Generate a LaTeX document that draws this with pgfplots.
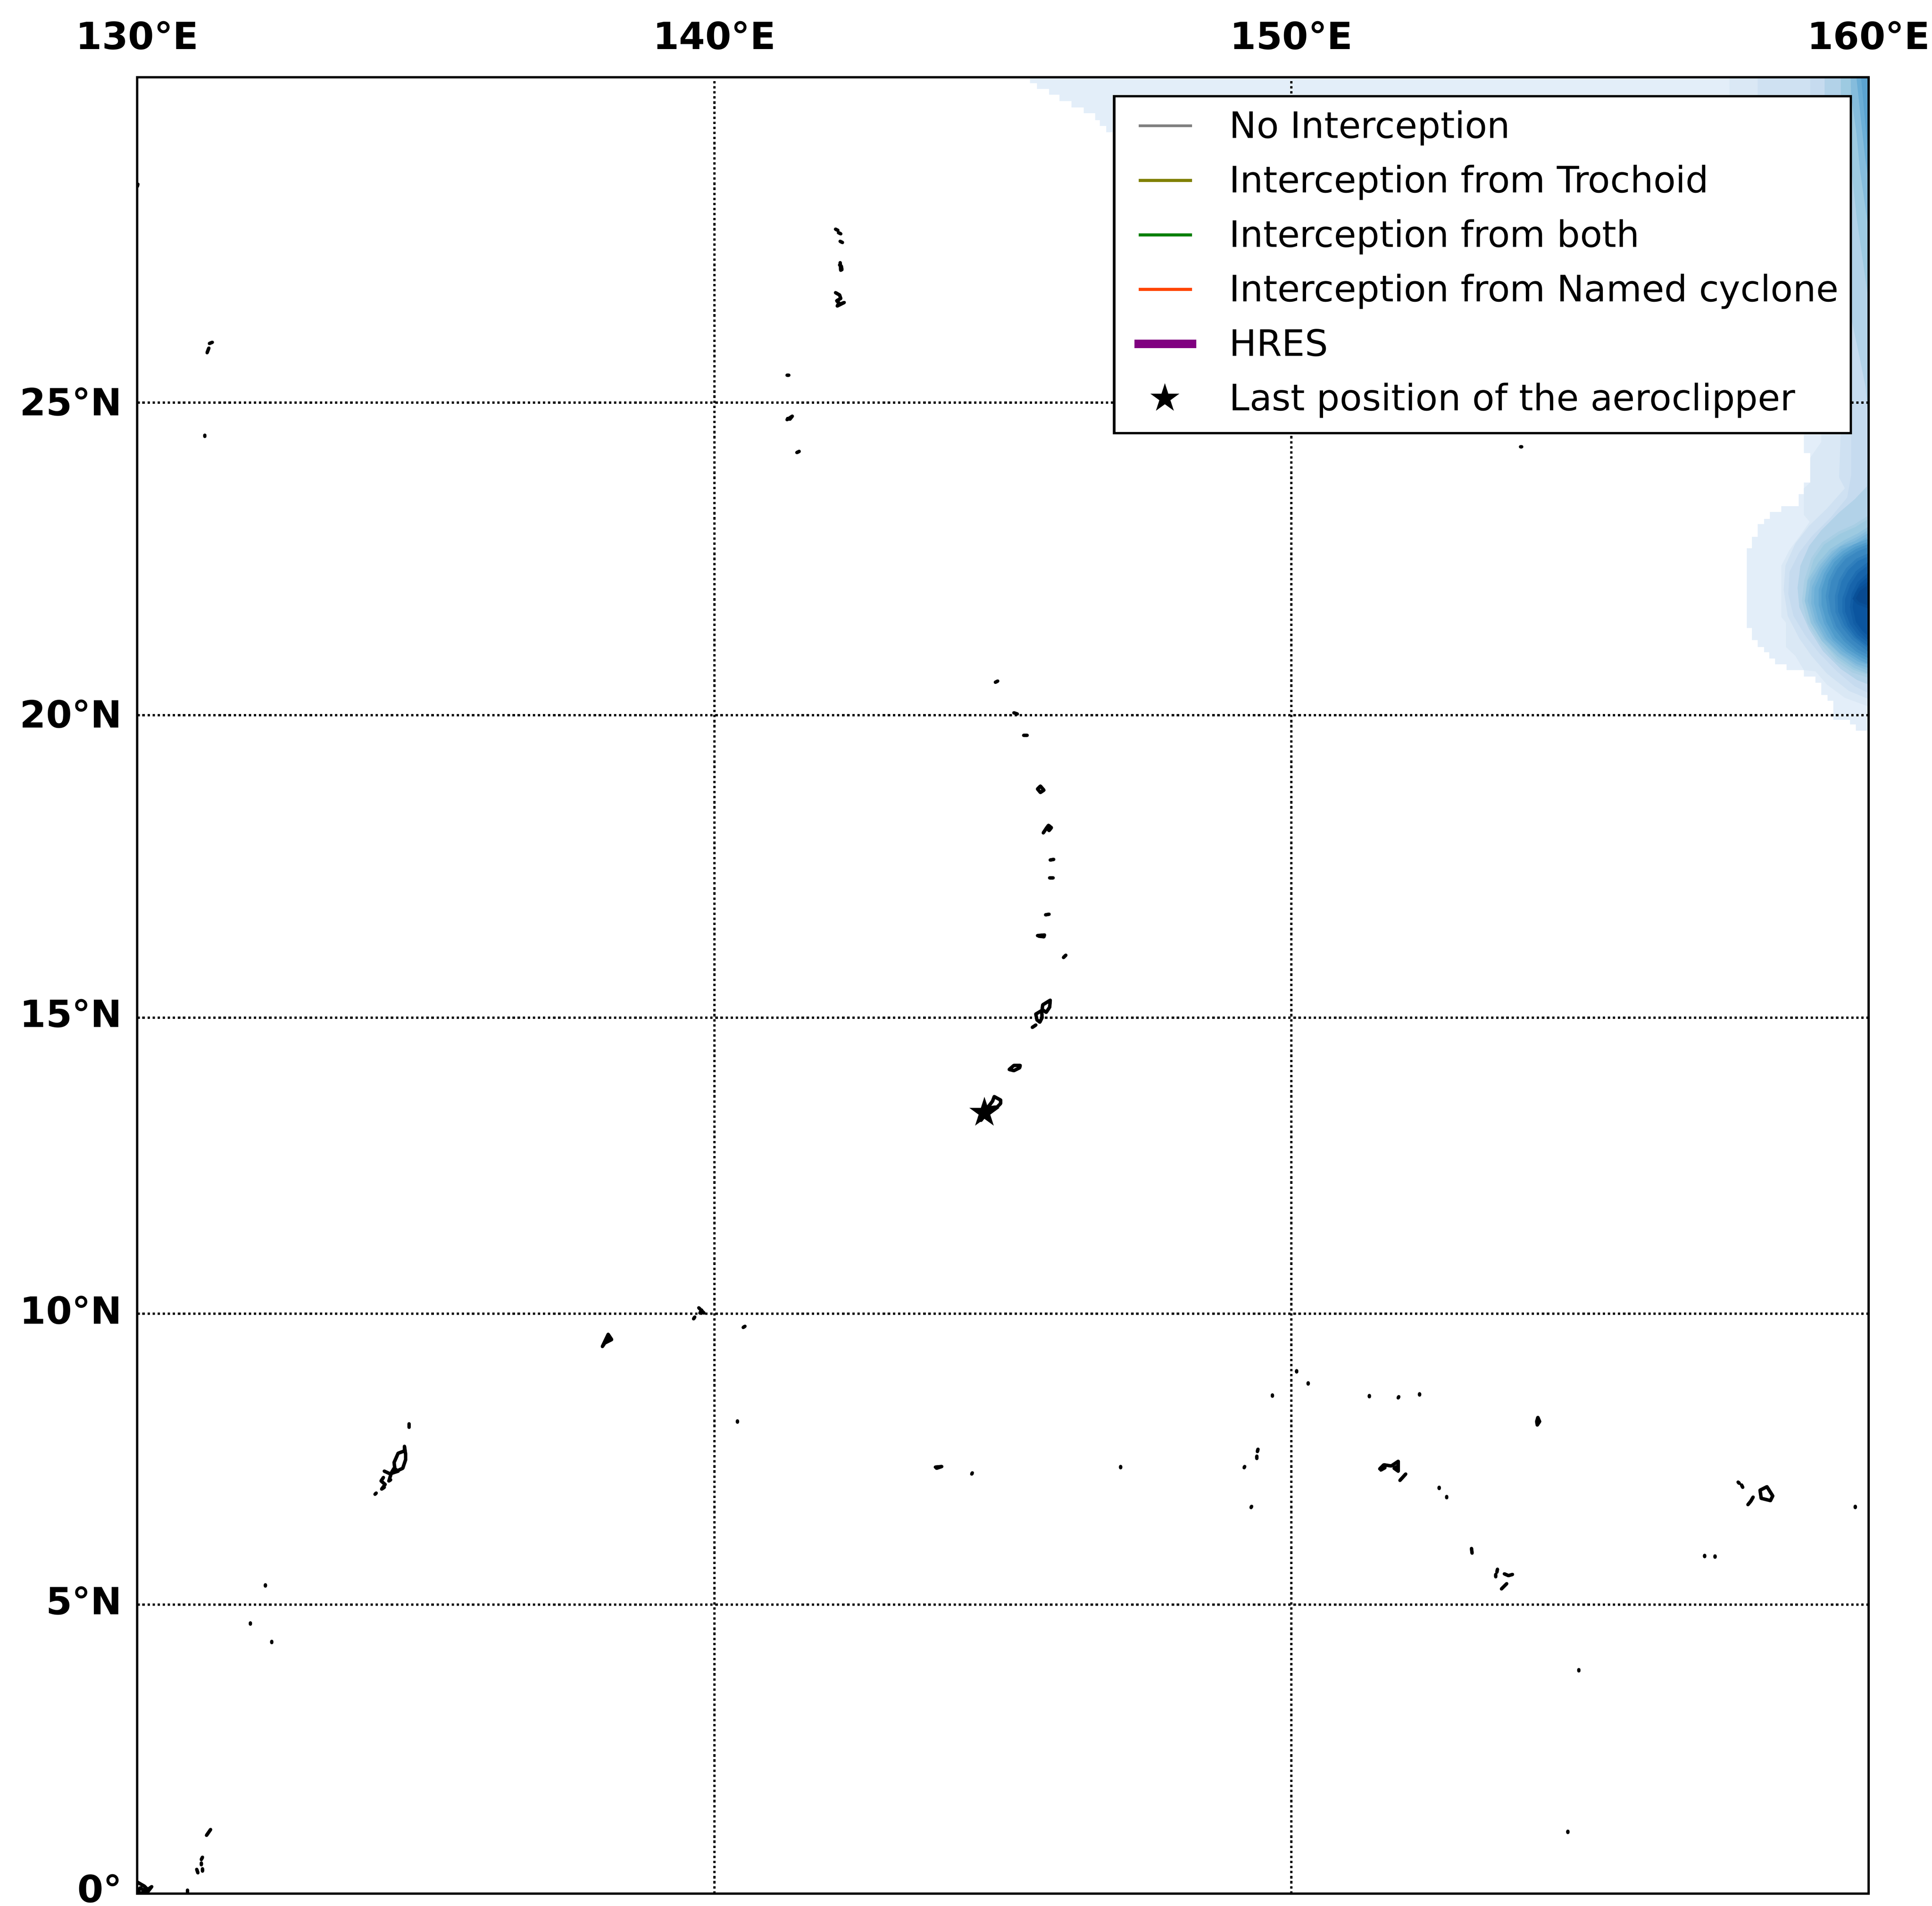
\documentclass[border=0pt]{standalone}
\usepackage{fontspec}
\setmainfont{DejaVu Sans}
\usepackage{pgfplots}
\pgfplotsset{compat=1.18}
\definecolor{c1}{HTML}{E3EEF9}
\definecolor{c2}{HTML}{DAE8F5}
\definecolor{c3}{HTML}{CFE1F2}
\definecolor{c4}{HTML}{C6DBEF}
\definecolor{c5}{HTML}{B2D2E8}
\definecolor{c6}{HTML}{9DCAE1}
\definecolor{c7}{HTML}{85BCDC}
\definecolor{c8}{HTML}{6BAED6}
\definecolor{c8b}{HTML}{5BA3D0}
\definecolor{c9}{HTML}{4F9BCB}
\definecolor{c10}{HTML}{3A88C1}
\definecolor{c11}{HTML}{2676B7}
\definecolor{c12}{HTML}{1764AB}
\definecolor{c13}{HTML}{0B559F}
\definecolor{c14}{HTML}{084A91}
\pgfdeclareplotmark{fstar}{%
  \pgfpathmoveto{\pgfpointpolar{90}{\pgfplotmarksize}}%
  \pgfpathlineto{\pgfpointpolar{126}{0.382\pgfplotmarksize}}%
  \pgfpathlineto{\pgfpointpolar{162}{\pgfplotmarksize}}%
  \pgfpathlineto{\pgfpointpolar{198}{0.382\pgfplotmarksize}}%
  \pgfpathlineto{\pgfpointpolar{234}{\pgfplotmarksize}}%
  \pgfpathlineto{\pgfpointpolar{270}{0.382\pgfplotmarksize}}%
  \pgfpathlineto{\pgfpointpolar{306}{\pgfplotmarksize}}%
  \pgfpathlineto{\pgfpointpolar{342}{0.382\pgfplotmarksize}}%
  \pgfpathlineto{\pgfpointpolar{18}{\pgfplotmarksize}}%
  \pgfpathlineto{\pgfpointpolar{54}{0.382\pgfplotmarksize}}%
  \pgfpathclose\pgfusepathqfill}
\pgfplotsset{
  /pgfplots/lline/.style={legend image code/.code={%
      \path[draw=none] (-3.5pt,0.7pt) rectangle (26.3pt,0.7pt);
      \draw[##1] (0pt,0.7pt) -- (15.5pt,0.7pt);}},
  /pgfplots/lstar/.style={legend image code/.code={%
      \path[draw=none] (-3.5pt,0.7pt) rectangle (26.3pt,0.7pt);
      \path[##1] plot coordinates {(7.6pt,0.7pt)};}},
}
\newcommand{\up}[2]{\raisebox{#1}[\height][\depth]{#2}}
\begin{document}
\begin{tikzpicture}[x=1pt,y=1pt]
\useasboundingbox (-39.8,-3.5) rectangle (520.3,549);
\begin{axis}[
  at={(0pt,0pt)}, anchor=south west,
  scale only axis, width=501.9pt, height=526.6pt,
  xmin=130, xmax=160, ymin=0, ymax=31.473,
  axis on top,
  axis line style={line width=0.7pt},
  major tick length=0pt,
  xtick={130,140,150,160},
  xticklabels={130°E,140°E,150°E,160°E},
  xticklabel pos=top,
  ytick={0,5.007,10.051,15.175,20.419,25.833},
  yticklabels={\up{1.5pt}{0°},\up{1.1pt}{5°N},\up{1pt}{10°N},\up{1.3pt}{15°N},\up{0.3pt}{20°N},\up{0.3pt}{25°N}},
  xticklabel style={font=\fontsize{10.85}{13}\selectfont\bfseries, inner sep=0pt, yshift=7.8pt},
  yticklabel style={font=\fontsize{10.85}{13}\selectfont\bfseries, inner sep=0pt, xshift=-4.2pt},
  grid=major,
  grid style={black, line width=0.7pt, dash pattern=on 0.7pt off 0.77pt},
  legend cell align=left,
  legend style={
    at={(0.9905,0.9903)}, anchor=north east,
    draw=black, line width=0.7pt, fill=white,
    inner xsep=3.6pt, inner ysep=1.45pt,
    row sep=0pt,
    font=\fontsize{10.55}{12}\selectfont,
    nodes={inner sep=0pt, text height=10.73pt, text depth=5.07pt},
    /tikz/every even column/.append style={column sep=0pt},
  },
  unbounded coords=jump,
]
% --- density field (right edge), contours read from the picture; y is Mercator-projected latitude
\addplot[draw=none, fill=c1, forget plot] coordinates {(145.47,31.473)(145.47,31.37)(145.59,31.37)(145.59,31.27)(145.80,31.27)(145.80,31.17)(145.98,31.17)(145.98,31.06)(146.19,31.06)(146.19,30.95)(146.40,30.95)(146.40,30.85)(146.60,30.85)(146.60,30.73)(146.68,30.73)(146.68,30.63)(146.79,30.63)(146.79,30.52)(146.95,30.52)(158.88,25.35)(158.88,24.96)(158.99,24.96)(158.99,24.45)(158.88,24.45)(158.88,24.25)(158.79,24.25)(158.79,24.04)(158.49,24.04)(158.49,23.94)(158.29,23.94)(158.29,23.82)(158.19,23.82)(158.19,23.73)(158.08,23.73)(158.08,23.51)(157.98,23.51)(157.98,23.31)(157.89,23.31)(157.89,21.93)(157.98,21.93)(157.98,21.72)(158.08,21.72)(158.08,21.60)(158.19,21.60)(158.19,21.51)(158.28,21.51)(158.28,21.40)(158.38,21.40)(158.38,21.30)(158.58,21.30)(158.58,21.20)(158.88,21.20)(158.88,21.09)(159.08,21.09)(159.08,20.98)(159.18,20.98)(159.18,20.77)(159.29,20.77)(159.29,20.67)(159.39,20.67)(159.39,20.34)(159.68,20.34)(159.68,20.26)(159.78,20.26)(159.78,20.15)(160,20.15)(160,31.473)} --cycle;
\addplot[draw=none, fill=c2, forget plot] coordinates {(157.59,31.473)(157.59,30)(159.18,25.35)(159.18,25.15)(158.99,24.88)(158.99,24.45)(158.88,24.35)(158.88,23.89)(158.98,23.77)(158.80,23.51)(158.63,23.28)(158.49,23.01)(158.49,22.12)(158.57,22.02)(158.57,21.60)(158.73,21.45)(158.88,21.20)(159.08,21.18)(159.28,20.95)(159.59,20.72)(160,20.57)(160,31.473)} --cycle;
\addplot[draw=none, fill=c3, forget plot] coordinates {(158.08,31.473)(158.08,30)(159.52,25.35)(159.49,24.54)(159.59,24.35)(159.28,24.00)(158.97,23.70)(158.73,23.39)(158.56,23.01)(158.53,22.59)(158.60,22.14)(158.80,21.75)(159.01,21.45)(159.28,21.14)(159.66,20.84)(160,20.70)(160,31.473)} --cycle;
\addplot[draw=none, fill=c4, forget plot] coordinates {(158.99,31.473)(158.99,30)(159.70,25.35)(159.70,24.58)(159.63,24.19)(159.35,23.85)(159.01,23.51)(158.80,23.24)(158.63,22.90)(158.61,22.52)(158.70,22.14)(158.91,21.79)(159.15,21.49)(159.45,21.18)(159.76,20.92)(160,20.80)(160,31.473)} --cycle;
\addplot[draw=none, fill=c5, forget plot] coordinates {(159.24,31.473)(159.24,30)(159.70,27.3)(159.85,26.6)(159.95,26.1)(160,25.5)(159.97,24.38)(159.76,24.16)(159.49,23.93)(159.18,23.62)(158.97,23.35)(158.82,23.01)(158.77,22.63)(158.80,22.29)(158.97,21.91)(159.21,21.53)(159.52,21.22)(159.80,21.03)(160,20.95)(160,31.473)} --cycle;
\addplot[draw=none, fill=c6, forget plot] coordinates {(159.52,31.473)(159.52,30.5)(159.70,29.9)(159.80,29.0)(159.90,28.3)(160,27.6)(160,31.473)} --cycle;
\addplot[draw=c6!50!c5, line width=0.8pt, fill=c6, forget plot] coordinates {(160,23.85)(159.76,23.70)(159.49,23.58)(159.21,23.39)(159.03,23.13)(158.91,22.75)(158.87,22.40)(158.97,22.02)(159.18,21.68)(159.45,21.37)(159.73,21.18)(160,21.09)} --cycle;
\addplot[draw=none, fill=c7, forget plot] coordinates {(159.69,31.473)(159.70,31.14)(159.79,30.51)(159.85,29.88)(159.94,29.25)(160,28.83)(160,31.473)} --cycle;
\addplot[draw=c7!50!c6, line width=0.8pt, fill=c7, forget plot] coordinates {(160,23.66)(159.83,23.55)(159.59,23.43)(159.35,23.28)(159.15,23.05)(158.97,22.75)(158.92,22.40)(159.03,22.02)(159.21,21.72)(159.49,21.45)(159.76,21.26)(160,21.16)} --cycle;
\addplot[draw=none, fill=c8, forget plot] coordinates {(159.79,31.473)(159.87,30.72)(159.94,30.09)(160,29.67)(160,31.473)} --cycle;
\addplot[draw=c8!50!c7, line width=0.8pt, fill=c8, forget plot] coordinates {(160,23.55)(159.76,23.41)(159.52,23.32)(159.35,23.16)(159.18,22.94)(159.04,22.63)(159.03,22.36)(159.11,22.06)(159.28,21.75)(159.52,21.51)(159.80,21.33)(160,21.26)} --cycle;
\addplot[draw=none, fill=c8b, forget plot] coordinates {(159.87,31.473)(159.92,30.93)(159.98,30.3)(160,30.1)(160,31.473)} --cycle;
\addplot[draw=c9!50!c8, line width=0.8pt, fill=c9, forget plot] coordinates {(160,23.45)(159.76,23.36)(159.56,23.24)(159.39,23.09)(159.25,22.86)(159.16,22.59)(159.16,22.33)(159.25,22.02)(159.40,21.75)(159.63,21.54)(159.87,21.39)(160,21.33)} --cycle;
\addplot[draw=c10!50!c9, line width=0.8pt, fill=c10, forget plot] coordinates {(160,23.36)(159.80,23.28)(159.59,23.15)(159.44,22.97)(159.33,22.75)(159.28,22.48)(159.32,22.21)(159.42,21.94)(159.59,21.72)(159.80,21.54)(160,21.43)} --cycle;
\addplot[draw=c11!50!c10, line width=0.8pt, fill=c11, forget plot] coordinates {(160,23.20)(159.80,23.11)(159.63,22.95)(159.51,22.75)(159.44,22.48)(159.45,22.21)(159.56,21.96)(159.73,21.75)(160,21.54)} --cycle;
\addplot[draw=c12!50!c11, line width=0.8pt, fill=c12, forget plot] coordinates {(160,23.05)(159.80,22.90)(159.66,22.69)(159.57,22.44)(159.57,22.21)(159.66,21.98)(159.80,21.79)(160,21.64)} --cycle;
\addplot[draw=c13!50!c12, line width=0.8pt, fill=c13, forget plot] coordinates {(160,22.86)(159.83,22.71)(159.73,22.52)(159.70,22.29)(159.76,22.02)(159.87,21.87)(160,21.75)} --cycle;
\addplot[draw=c14!50!c13, line width=0.8pt, fill=c14, forget plot] coordinates {(160,22.71)(159.83,22.59)(159.75,22.44)(159.82,22.36)(160,22.29)} --cycle;
% --- coastlines
\addplot[black, line width=1.0pt, line cap=round, line join=round, forget plot] table {
130.00 29.58
130.01 29.62
nan nan
131.30 26.88
131.25 26.86
nan nan
131.24 26.78
131.21 26.70
nan nan
131.17 25.25
131.17 25.27
nan nan
142.10 28.84
142.14 28.82
nan nan
142.15 28.78
142.19 28.76
nan nan
142.18 28.63
142.22 28.61
nan nan
142.18 28.26
142.19 28.13
142.21 28.14
142.20 28.20
142.17 28.22
nan nan
142.10 27.74
142.17 27.70
142.19 27.64
142.12 27.60
142.16 27.56
142.13 27.51
142.25 27.57
142.15 27.53
nan nan
141.26 26.31
141.29 26.31
nan nan
141.26 25.54
141.35 25.60
141.31 25.55
141.27 25.56
nan nan
141.43 24.97
141.47 24.99
nan nan
153.97 25.07
153.99 25.07
nan nan
144.87 20.99
144.91 21.01
nan nan
145.19 20.46
145.25 20.44
nan nan
145.36 20.07
145.42 20.07
nan nan
145.60 19.14
145.65 19.19
145.71 19.12
145.65 19.08
145.60 19.14
nan nan
145.76 18.47
145.79 18.51
145.84 18.47
145.80 18.42
145.76 18.47
145.70 18.38
nan nan
145.82 17.91
145.88 17.92
nan nan
145.81 17.60
145.87 17.60
nan nan
145.74 16.96
145.80 16.97
nan nan
145.60 16.60
145.72 16.61
145.71 16.58
145.62 16.59
nan nan
146.05 16.22
146.09 16.26
nan nan
145.82 15.48
145.69 15.40
145.68 15.32
145.75 15.27
145.81 15.36
145.82 15.48
nan nan
145.67 15.30
145.57 15.24
145.59 15.14
145.64 15.10
145.68 15.18
145.67 15.30
nan nan
145.51 15.01
145.57 15.05
nan nan
145.11 14.28
145.19 14.35
145.30 14.35
145.29 14.31
145.19 14.26
145.11 14.28
nan nan
144.85 13.81
144.96 13.75
144.96 13.69
144.90 13.63
144.79 13.62
144.70 13.50
144.62 13.40
144.60 13.46
144.72 13.60
144.82 13.73
144.85 13.81
nan nan
134.71 8.14
134.71 8.08
nan nan
134.63 7.75
134.65 7.61
134.65 7.52
134.60 7.37
134.47 7.31
134.45 7.47
134.52 7.63
134.63 7.67
134.63 7.75
nan nan
134.28 7.32
134.39 7.27
134.45 7.37
134.52 7.32
134.40 7.28
134.36 7.15
134.39 7.17
nan nan
134.265 7.21
134.225 7.15
134.295 7.09
134.235 7.01
134.28 7.04
nan nan
134.12 6.92
134.14 6.94
nan nan
138.06 9.48
138.16 9.69
138.22 9.60
138.10 9.54
138.06 9.48
138.14 9.60
138.18 9.62
nan nan
139.73 10.15
139.82 10.06
nan nan
139.75 10.06
139.78 10.11
nan nan
139.64 9.96
139.66 9.99
nan nan
140.50 9.81
140.53 9.83
nan nan
140.40 8.17
140.40 8.19
nan nan
143.83 7.39
143.94 7.40
143.85 7.37
nan nan
144.46 7.27
144.47 7.29
nan nan
147.04 7.38
147.04 7.40
nan nan
149.18 7.38
149.19 7.40
nan nan
149.42 7.70
149.41 7.66
nan nan
149.40 7.58
149.40 7.54
nan nan
149.30 6.69
149.31 6.71
nan nan
149.67 8.62
149.67 8.64
nan nan
150.09 9.04
150.09 9.06
nan nan
150.29 8.83
150.29 8.85
nan nan
151.35 8.61
151.35 8.63
nan nan
151.85 8.59
151.86 8.61
nan nan
152.22 8.64
152.22 8.66
nan nan
154.27 8.25
154.30 8.18
154.26 8.12
154.25 8.18
154.27 8.25
nan nan
151.53 7.36
151.60 7.43
151.73 7.41
151.85 7.49
151.85 7.32
151.78 7.37
151.85 7.41
nan nan
151.55 7.34
151.62 7.38
nan nan
151.98 7.27
151.88 7.16
nan nan
152.56 7.02
152.56 7.04
nan nan
152.69 6.86
152.69 6.88
nan nan
153.12 5.98
153.13 5.90
nan nan
153.57 5.62
153.56 5.57
nan nan
153.54 5.53
153.54 5.49
nan nan
153.69 5.54
153.76 5.51
153.83 5.53
nan nan
153.73 5.37
153.64 5.28
nan nan
157.16 5.84
157.16 5.86
nan nan
157.34 5.83
157.34 5.85
nan nan
157.74 7.13
157.76 7.11
nan nan
157.80 7.08
157.82 7.04
nan nan
158.24 7.05
158.12 6.99
158.14 6.85
158.30 6.81
158.34 6.89
158.24 7.05
nan nan
158.00 6.87
157.96 6.80
157.91 6.74
nan nan
159.77 6.69
159.77 6.71
nan nan
154.98 3.86
154.98 3.88
nan nan
154.79 1.06
154.79 1.08
nan nan
132.22 5.33
132.22 5.35
nan nan
131.96 4.67
131.96 4.69
nan nan
132.33 4.35
132.33 4.37
nan nan
131.20 1.01
131.27 1.11
nan nan
131.13 0.63
131.11 0.59
nan nan
131.11 0.50
131.11 0.53
nan nan
131.03 0.42
131.05 0.36
nan nan
131.13 0.39
131.13 0.43
nan nan
130.00 0.20
130.05 0.17
130.12 0.13
130.18 0.07
130.25 0.12
130.18 0.03
130.00 0.00
130.05 0.10
130.12 0.05
nan nan
130.87 0.00
130.87 0.06
};
% --- last position of the aeroclipper
\addplot[only marks, mark=fstar, mark size=4.6pt, black, forget plot] coordinates {(144.68,13.53)};
% --- legend
\addlegendimage{lline, color={rgb,255:red,128;green,128;blue,128}, line width=0.8pt}
\addlegendentry{No Interception}
\addlegendimage{lline, color={rgb,255:red,128;green,128;blue,0}, line width=0.8pt}
\addlegendentry{Interception from Trochoid}
\addlegendimage{lline, color={rgb,255:red,0;green,128;blue,0}, line width=0.8pt}
\addlegendentry{Interception from both}
\addlegendimage{lline, color={rgb,255:red,255;green,69;blue,0}, line width=0.8pt}
\addlegendentry{Interception from Named cyclone}
\addlegendimage{lline, color={rgb,255:red,128;green,0;blue,128}, line width=2.5pt, line cap=rect}
\addlegendentry{HRES}
\addlegendimage{lstar, black, mark=fstar, mark size=4.4pt}
\addlegendentry{Last position of the aeroclipper}
\end{axis}
\end{tikzpicture}
\end{document}
